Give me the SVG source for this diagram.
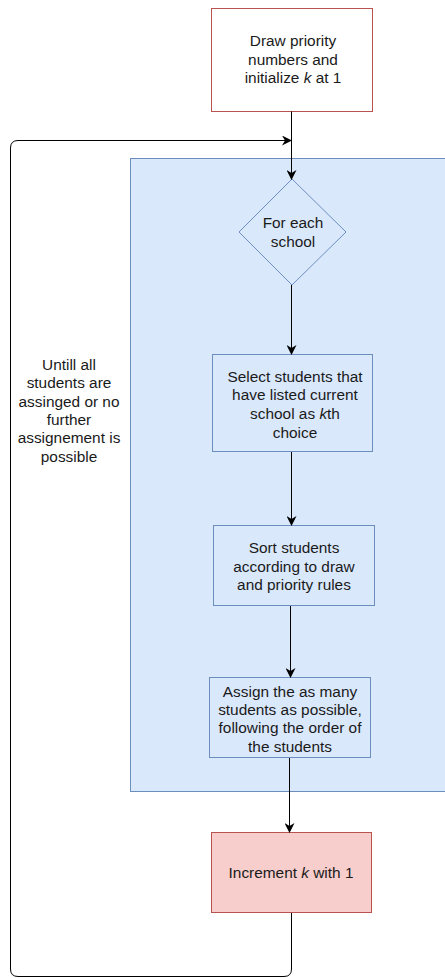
<svg xmlns="http://www.w3.org/2000/svg" width="445" height="978" viewBox="0 0 445 978">
<style>
text{font-family:"Liberation Sans",Arial,sans-serif;font-size:15.4px;fill:#1a1a1a;text-anchor:middle}
.blue{fill:#dae8fc;stroke:#6c8ebf;stroke-width:1}
.red{fill:#f8cecc;stroke:#b85450;stroke-width:1}
.white{fill:#ffffff;stroke:#b85450;stroke-width:1}
.edge{fill:none;stroke:#000;stroke-width:1}
</style>
<defs>
<marker id="arr" viewBox="0 0 10 10" refX="9" refY="5" markerWidth="10" markerHeight="10" markerUnits="userSpaceOnUse" orient="auto">
<path d="M0,0 L10,5 L0,10 L3,5 Z" fill="#000"/>
</marker>
</defs>
<g id="container"><rect class="blue" x="130.5" y="158.5" width="316" height="633"/></g>
<g id="start"><rect class="white" x="211.5" y="8.5" width="161" height="103"/>
<text x="293" y="46">Draw priority</text><text x="293" y="65">numbers and</text><text x="293" y="83">initialize <tspan font-style="italic">k</tspan> at 1</text></g>
<g id="foreach"><path class="blue" d="M292,179 L346,232 L292,285 L239,232 Z"/>
<text x="293" y="228">For each</text><text x="293" y="247">school</text></g>
<g id="select"><rect class="blue" x="212.5" y="354.5" width="160" height="97"/>
<text x="295" y="382">Select students that</text><text x="295" y="400">have listed current</text><text x="295" y="419">school as <tspan font-style="italic">k</tspan>th</text><text x="295" y="438">choice</text></g>
<g id="sort"><rect class="blue" x="213.5" y="525.5" width="161" height="80"/>
<text x="294" y="553">Sort students</text><text x="294" y="572">according to draw</text><text x="294" y="590">and priority rules</text></g>
<g id="assign"><rect class="blue" x="209.5" y="677.5" width="161" height="80"/>
<text x="290" y="697">Assign the as many</text><text x="290" y="715">students as possible,</text><text x="290" y="733">following the order of</text><text x="290" y="752">the students</text></g>
<g id="increment"><rect class="red" x="211.5" y="832.5" width="160" height="80"/>
<text x="291" y="878">Increment <tspan font-style="italic">k</tspan> with 1</text></g>
<g id="label"><text x="69" y="370">Untill all</text><text x="69" y="388">students are</text><text x="69" y="407">assinged or no</text><text x="69" y="425">further</text><text x="69" y="443">assignement is</text><text x="69" y="462">possible</text></g>
<g id="connectors">
<path class="edge" d="M291.5,111.5 V179" marker-end="url(#arr)"/>
<path class="edge" d="M291.5,285 V354" marker-end="url(#arr)"/>
<path class="edge" d="M291.5,452 V525" marker-end="url(#arr)"/>
<path class="edge" d="M290.5,606 V677" marker-end="url(#arr)"/>
<path class="edge" d="M289.5,758 V832" marker-end="url(#arr)"/>
<path class="edge" d="M291.5,913 V969 Q291.5,976.5 284,976.5 H18 Q10.5,976.5 10.5,969 V148 Q10.5,140.5 18,140.5 H291" marker-end="url(#arr)"/>
</g>
</svg>
